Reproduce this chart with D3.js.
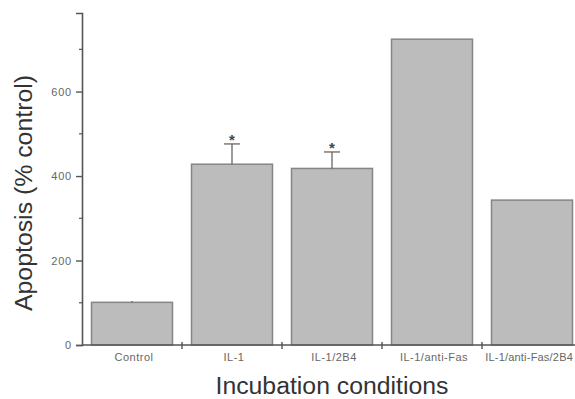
<!DOCTYPE html>
<html>
<head>
<meta charset="utf-8">
<script src="https://cdn.jsdelivr.net/npm/d3@7"></script>
<style>
  body { margin: 0; background: #fff; }
  svg { display: block; font-family: Arial, "Liberation Sans", sans-serif; }
</style>
</head>
<body>
<div id="chart"></div>
<script>
// data
const conditions = ['Control', 'IL-1', 'IL-1/2B4', 'IL-1/anti-Fas', 'IL-1/anti-Fas/2B4'];
const apoptosis = [101, 428, 418, 724, 343];
const errorTop = [104, 476, 457, null, null];
const significant = [false, true, true, false, false];
const yTicks = [0, 200, 400, 600];
const yMinorTicks = [100, 300, 500, 700];

const width = 575, height = 399;
const svg = d3.select('#chart').append('svg')
    .attr('width', width)
    .attr('height', height);

const x = d3.scaleBand()
    .domain(conditions)
    .range([82, 582])
    .paddingInner(0.19)
    .paddingOuter(0.095);

const y = d3.scaleLinear()
    .domain([0, 786])
    .range([345, 13]);

const axisColor = '#555';

// bars
svg.append('g')
    .selectAll('rect')
    .data(conditions)
    .join('rect')
    .attr('x', d => x(d))
    .attr('y', (d, i) => y(apoptosis[i]))
    .attr('width', x.bandwidth())
    .attr('height', (d, i) => y(0) - y(apoptosis[i]))
    .attr('fill', '#bcbcbc')
    .attr('stroke', '#858585')
    .attr('stroke-width', 1.5);

// error bars (upper half only)
const errs = conditions.map((c, i) => ({ c, v: apoptosis[i], e: errorTop[i], s: significant[i] }))
    .filter(d => d.e != null);

const eg = svg.append('g').attr('stroke', '#666').attr('stroke-width', 1.3);
eg.selectAll('line.stem')
    .data(errs)
    .join('line')
    .attr('class', 'stem')
    .attr('x1', d => x(d.c) + x.bandwidth() / 2)
    .attr('x2', d => x(d.c) + x.bandwidth() / 2)
    .attr('y1', d => y(d.v))
    .attr('y2', d => y(d.e));
eg.selectAll('line.cap')
    .data(errs.filter(d => d.e - d.v > 10))
    .join('line')
    .attr('class', 'cap')
    .attr('x1', d => x(d.c) + x.bandwidth() / 2 - 8)
    .attr('x2', d => x(d.c) + x.bandwidth() / 2 + 8)
    .attr('y1', d => y(d.e))
    .attr('y2', d => y(d.e));

svg.append('g')
    .selectAll('text')
    .data(errs.filter(d => d.s))
    .join('text')
    .attr('x', d => x(d.c) + x.bandwidth() / 2)
    .attr('y', d => y(d.e) + 1)
    .attr('text-anchor', 'middle')
    .attr('font-size', 15)
    .attr('font-weight', 'bold')
    .attr('fill', '#444')
    .text('*');

// y axis
const yAxis = svg.append('g')
    .attr('transform', 'translate(82,0)')
    .call(d3.axisLeft(y).tickValues(yTicks).tickSize(6).tickPadding(4));
yAxis.select('.domain').attr('stroke', axisColor).attr('stroke-width', 1.6);
yAxis.selectAll('.tick line').attr('stroke', axisColor).attr('stroke-width', 1.4);
yAxis.selectAll('.tick text')
    .attr('font-size', 11)
    .attr('letter-spacing', 0.8)
    .attr('fill', '#666');

svg.append('g')
    .selectAll('line')
    .data(yMinorTicks)
    .join('line')
    .attr('x1', 79)
    .attr('x2', 82)
    .attr('y1', d => y(d))
    .attr('y2', d => y(d))
    .attr('stroke', axisColor)
    .attr('stroke-width', 1.2);

// x axis
svg.append('line')
    .attr('x1', 82).attr('x2', width)
    .attr('y1', y(0)).attr('y2', y(0))
    .attr('stroke', axisColor)
    .attr('stroke-width', 1.6);

// ticks between categories
const step = x.step();
const between = conditions.slice(1).map(c => x(c) - (step - x.bandwidth()) / 2);
svg.append('g')
    .selectAll('line')
    .data(between)
    .join('line')
    .attr('x1', d => d).attr('x2', d => d)
    .attr('y1', y(0) - 3).attr('y2', y(0) + 4)
    .attr('stroke', axisColor)
    .attr('stroke-width', 1.4);

// the last label would run off the right edge, so pin it there
const last = conditions.length - 1;
svg.append('g')
    .selectAll('text')
    .data(conditions)
    .join('text')
    .attr('x', (d, i) => i === last ? width - 2 : x(d) + x.bandwidth() / 2 + 2)
    .attr('y', 361)
    .attr('text-anchor', (d, i) => i === last ? 'end' : 'middle')
    .attr('font-size', 11)
    .attr('letter-spacing', (d, i) => i === last ? 0.2 : 0.5)
    .attr('fill', '#666')
    .text(d => d);

// titles
svg.append('text')
    .attr('x', 332)
    .attr('y', 394)
    .attr('text-anchor', 'middle')
    .attr('font-size', 23)
    .attr('textLength', 233)
    .attr('lengthAdjust', 'spacingAndGlyphs')
    .attr('fill', '#333')
    .text('Incubation conditions');

svg.append('text')
    .attr('transform', 'translate(32,193) rotate(-90)')
    .attr('text-anchor', 'middle')
    .attr('font-size', 23)
    .attr('textLength', 236)
    .attr('lengthAdjust', 'spacingAndGlyphs')
    .attr('fill', '#333')
    .text('Apoptosis (% control)');
</script>
</body>
</html>
